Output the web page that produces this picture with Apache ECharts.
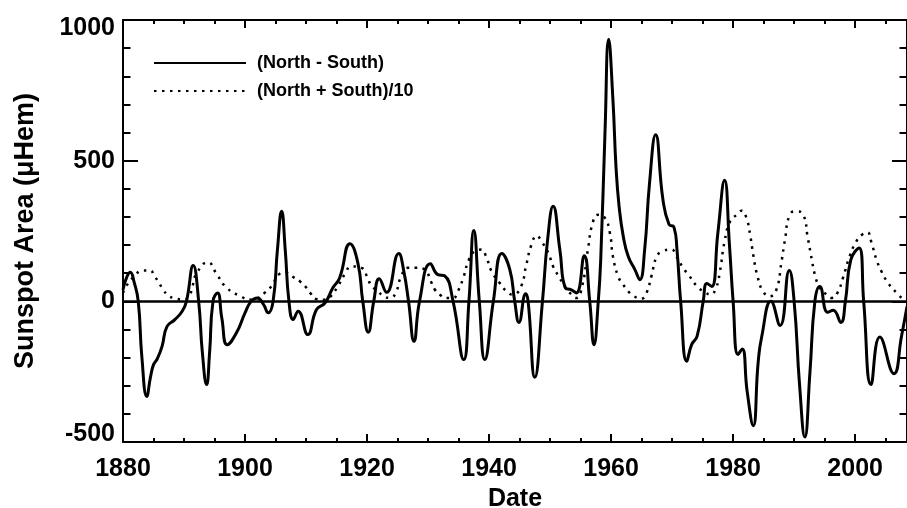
<!DOCTYPE html>
<html>
<head>
<meta charset="utf-8">
<script src="https://cdn.jsdelivr.net/npm/echarts@6/dist/echarts.min.js"></script>
<style>html,body{margin:0;padding:0;background:#fff;}#c{width:907px;height:508px;}</style>
</head>
<body>
<div id="c"></div>
<script>
// (North - South) series
const nsYears = [1880.0,1880.6,1881.2,1881.8,1882.5,1883.1,1883.9,1884.5,1885.0,1885.6,1886.4,1887.2,1888.5,1889.7,1890.4,1891.5,1892.4,1893.0,1893.7,1894.2,1894.75,1895.5,1896.2,1897.1,1898.6,1900.0,1901.0,1902.0,1903.0,1903.8,1904.6,1905.3,1906.0,1906.6,1907.2,1907.9,1908.7,1910.3,1911.7,1913.1,1914.4,1915.5,1917.2,1918.5,1919.3,1920.2,1921.1,1922.0,1923.2,1925.2,1926.0,1926.8,1927.7,1928.6,1930.4,1931.6,1932.7,1934.1,1935.85,1936.7,1937.5,1938.4,1939.3,1940.7,1942.1,1943.4,1944.2,1944.9,1946.0,1946.4,1947.5,1948.75,1949.6,1950.5,1951.6,1952.5,1953.4,1954.3,1955.6,1956.5,1957.2,1957.9,1958.3,1959.0,1959.6,1960.3,1960.8,1961.3,1962.0,1962.8,1963.9,1964.7,1965.5,1966.3,1967.3,1968.5,1969.5,1970.3,1970.8,1971.4,1972.4,1973.2,1974.1,1975.1,1975.7,1976.5,1977.5,1978.6,1979.4,1980.0,1980.8,1981.5,1982.3,1983.3,1984.1,1984.7,1986.2,1987.7,1989.2,1990.0,1990.9,1991.75,1992.6,1993.4,1994.2,1995.5,1996.4,1997.65,1998.4,1999.3,2000.65,2001.4,2002.6,2004.05,2006.35,2007.6,2008.5];
const nsValues = [41,85,103,70,0,-200,-338,-270,-225,-205,-160,-90,-65,-35,0,127,0,-180,-296,-180,0,30,-60,-154,-112,-41,0,12,-10,-41,0,180,320,180,0,-65,-35,-118,-30,-6,48,83,205,136,0,-110,0,80,32,170,110,0,-142,0,134,95,91,0,-207,0,252,0,-207,0,170,113,0,-75,27,0,-270,0,220,338,184,48,42,30,162,0,-154,0,148,600,932,717,480,340,230,160,113,77,184,420,592,361,273,264,184,0,-213,-154,-124,0,63,53,243,430,200,0,-189,-169,-320,-442,-218,-124,0,-86,110,0,-300,-482,-250,0,53,-39,-32,-75,0,148,190,0,-296,-127,-257,-124,-18];

// (North + South)/10 series
const sumYears = [1880.0,1880.5,1881.6,1883.3,1884.4,1885.2,1885.9,1886.6,1887.4,1888.5,1889.8,1890.8,1891.4,1892.1,1893.9,1895.4,1897.0,1899.1,1901.0,1902.2,1903.2,1904.3,1905.7,1906.6,1908.0,1909.0,1910.0,1910.8,1911.7,1913.1,1914.0,1915.2,1916.4,1917.4,1919.1,1920.1,1920.7,1921.8,1922.6,1923.8,1924.7,1925.5,1926.7,1928.1,1929.3,1930.6,1931.1,1931.9,1933.0,1934.1,1934.9,1935.85,1936.7,1937.8,1938.75,1939.5,1940.4,1941.75,1942.85,1943.9,1945.2,1946.1,1946.95,1947.8,1948.6,1949.7,1950.5,1951.4,1952.4,1953.5,1954.3,1955.25,1956.2,1957.05,1957.9,1959.0,1959.8,1960.3,1961.15,1962.0,1962.8,1963.6,1965.0,1965.8,1966.6,1967.5,1968.5,1969.9,1970.7,1971.8,1972.8,1974.1,1975.2,1976.3,1977.2,1977.8,1978.6,1979.5,1980.6,1981.4,1982.2,1982.8,1983.3,1984.0,1984.9,1986.0,1987.1,1987.9,1988.5,1989.3,1990.4,1991.5,1992.2,1992.9,1993.4,1994.2,1995.3,1996.2,1997.1,1998.0,1999.1,2000.2,2001.2,2002.0,2002.7,2003.5,2004.3,2005.4,2006.8,2007.9,2008.5];
const sumValues = [30,53,83,110,110,89,65,42,20,11,6,18,55,101,139,95,48,20,6,12,30,53,98,102,85,71,50,27,8,6,17,53,98,124,119,83,56,36,20,12,30,83,119,119,115,65,42,24,12,12,36,89,148,180,184,160,107,65,36,24,51,130,201,233,213,172,124,89,53,24,12,53,184,284,308,296,243,160,89,59,36,20,10,30,89,160,178,184,160,119,91,53,35,24,48,101,213,284,308,322,295,235,165,89,36,18,42,136,219,308,320,308,231,148,95,48,24,12,30,83,160,213,238,245,207,148,107,65,30,8,3];

// axis ticks
const xMin = 1880, xMax = 2008.5, xStep = 20;
const yMin = -500, yMax = 1000, yStep = 500;
const seriesNames = ['(North - South)', '(North + South)/10'];
const yTitle = 'Sunspot Area (\u03bcHem)';
const xTitle = 'Date';

const FONT = '"Liberation Sans", Arial, Helvetica, sans-serif';
const chart = echarts.init(document.getElementById('c'), null, {renderer: 'canvas'});

const axisCommon = {
  axisLine: {show: true, onZero: false, lineStyle: {color: '#000', width: 2}},
  splitLine: {show: false},
  axisTick: {show: true, inside: true, lineStyle: {color: '#000', width: 2}},
  minorTick: {show: true, lineStyle: {color: '#000', width: 2}},
  minorSplitLine: {show: false}
};
const labelFont = {fontSize: 25, fontWeight: 'bold', color: '#000', fontFamily: FONT};

chart.setOption({
  animation: false,
  backgroundColor: '#fff',
  grid: {left: 123, right: 0, top: 20, bottom: 66, containLabel: false, outerBoundsMode: 'none'},
  legend: {
    orient: 'vertical', left: 153, top: 54, padding: 0,
    itemWidth: 92, itemHeight: 18, itemGap: 10,
    itemStyle: {opacity: 0},
    textStyle: {fontSize: 18, fontWeight: 'bold', color: '#000', fontFamily: FONT, padding: [0, 0, 0, 6]},
    data: seriesNames
  },
  xAxis: [
    Object.assign({}, axisCommon, {
      type: 'value', min: xMin, max: xMax, interval: xStep, position: 'bottom',
      axisTick: Object.assign({}, axisCommon.axisTick, {length: 8}),
      minorTick: Object.assign({}, axisCommon.minorTick, {length: 4, splitNumber: 4}),
      axisLabel: Object.assign({show: true, margin: 15, formatter: v => String(v)}, labelFont),
      name: xTitle, nameLocation: 'middle', nameGap: 42,
      nameTextStyle: labelFont
    }),
    Object.assign({}, axisCommon, {
      type: 'value', min: xMin, max: xMax, interval: xStep, position: 'top',
      axisTick: Object.assign({}, axisCommon.axisTick, {length: 8}),
      minorTick: Object.assign({}, axisCommon.minorTick, {length: 4, splitNumber: 4}),
      axisLabel: {show: false}
    })
  ],
  yAxis: [
    Object.assign({}, axisCommon, {
      type: 'value', min: yMin, max: yMax, interval: yStep, position: 'left',
      axisTick: Object.assign({}, axisCommon.axisTick, {length: 15}),
      minorTick: Object.assign({}, axisCommon.minorTick, {length: 7.5, splitNumber: 5}),
      axisLabel: Object.assign({
        show: true, margin: 8,
        formatter: v => v === yMax ? '{top|' + v + '}' : (v === yMin ? '{bot|' + v + '}' : String(v)),
        rich: {
          top: Object.assign({padding: [16, 0, 0, 0]}, labelFont),
          bot: Object.assign({padding: [0, 0, 16, 0]}, labelFont)
        }
      }, labelFont),
      name: yTitle, nameLocation: 'middle', nameGap: 84, nameRotate: 90,
      nameTextStyle: Object.assign({}, labelFont, {fontSize: 27})
    }),
    Object.assign({}, axisCommon, {
      type: 'value', min: yMin, max: yMax, interval: yStep, position: 'right',
      axisTick: Object.assign({}, axisCommon.axisTick, {length: 15}),
      minorTick: Object.assign({}, axisCommon.minorTick, {length: 7.5, splitNumber: 5}),
      axisLabel: {show: false}
    })
  ],
  series: [
    {
      name: seriesNames[0], type: 'line', smooth: 0.5, symbol: 'none', showSymbol: false,
      xAxisIndex: 0, yAxisIndex: 0,
      data: nsYears.map((y, i) => [y, nsValues[i]]),
      lineStyle: {color: '#000', width: 3},
      itemStyle: {color: '#000'},
      z: 3,
      markLine: {
        silent: true, symbol: ['none', 'none'], label: {show: false},
        lineStyle: {color: '#000', width: 2.5, type: 'solid'},
        data: [{yAxis: 0}]
      }
    },
    {
      name: seriesNames[1], type: 'line', smooth: 0.5, symbol: 'none', showSymbol: false,
      xAxisIndex: 0, yAxisIndex: 0,
      data: sumYears.map((y, i) => [y, sumValues[i]]),
      lineStyle: {color: '#000', width: 2.5, type: [2.5, 5.5], cap: 'butt'},
      itemStyle: {color: '#000'},
      z: 2
    }
  ]
});
</script>
</body>
</html>
